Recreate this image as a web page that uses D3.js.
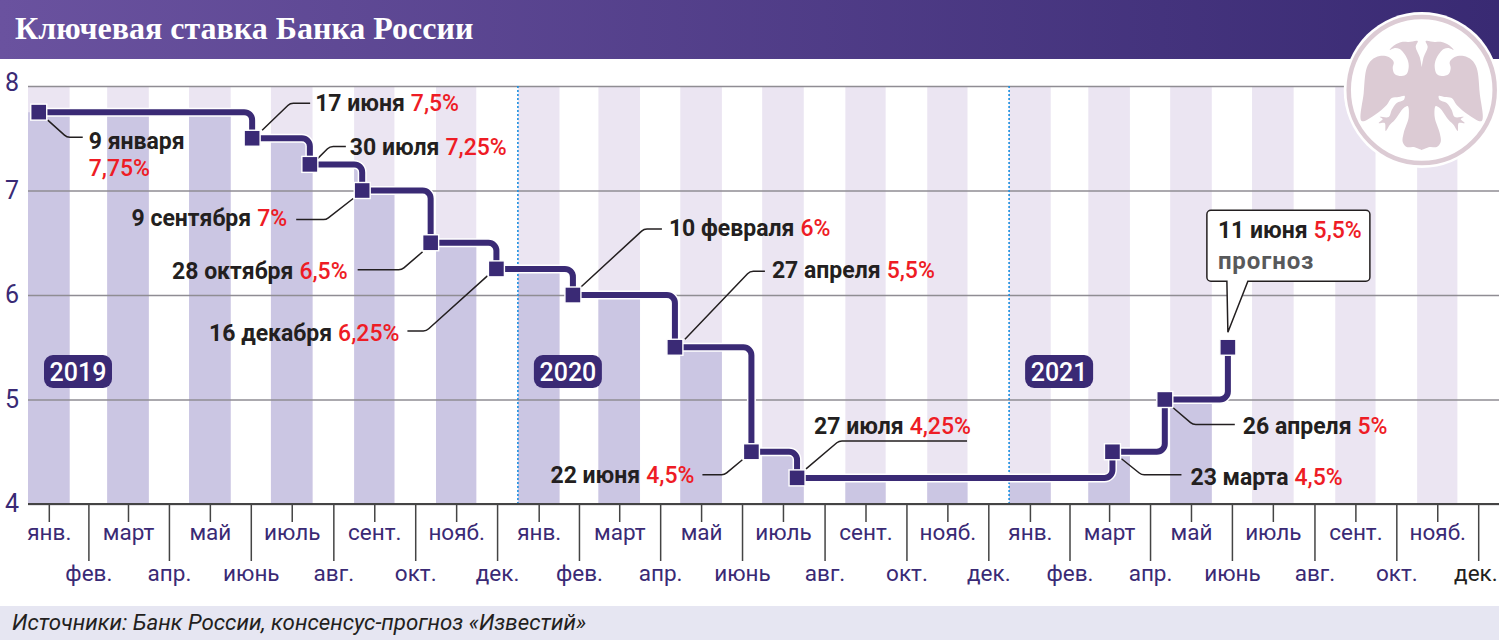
<!DOCTYPE html>
<html lang="ru">
<head>
<meta charset="utf-8">
<script src="https://cdn.jsdelivr.net/npm/d3@7"></script>
<style>
html, body { margin: 0; padding: 0; background: #fff; }
svg { display: block; }
</style>
</head>
<body>
<div id="container"></div>
<script>
const titleText = "Ключевая ставка Банка России"
const sourceText = "Источники: Банк России, консенсус-прогноз «Известий»"
const monthNames = ["янв.", "фев.", "март", "апр.", "май", "июнь", "июль", "авг.", "сент.", "окт.", "нояб.", "дек."]
const yearLabels = ["2019", "2020", "2021"]
const yTicks = [4, 5, 6, 7, 8]

const rateDates = ["2019-01-09", "2019-06-17", "2019-07-30", "2019-09-07", "2019-10-28", "2019-12-16",
    "2020-02-11", "2020-04-27", "2020-06-23", "2020-07-27", "2021-03-19", "2021-04-27", "2021-06-13"]
const rateValues = [7.75, 7.5, 7.25, 7, 6.5, 6.25, 6, 5.5, 4.5, 4.25, 4.5, 5, 5.5]
const dateLabels = ["9 января", "17 июня", "30 июля", "9 сентября", "28 октября", "16 декабря",
    "10 февраля", "27 апреля", "22 июня", "27 июля", "23 марта", "26 апреля", "11 июня"]
const rateLabels = ["7,75%", "7,5%", "7,25%", "7%", "6,5%", "6,25%", "6%", "5,5%", "4,5%", "4,25%", "4,5%", "5%", "5,5%"]

const width = 1499
const height = 640
const margin = {top: 86, bottom: 136, left: 28, right: 0}

const ink = "#3a2a75"
const red = "#ee1c25"
const dark = "#231f20"
const sans = "Roboto, sans-serif"

const parseDate = d3.utcParse("%Y-%m-%d")
const rates = rateDates.map((d, i) => ({date: parseDate(d), rate: rateValues[i]}))

const x = d3.scaleUtc()
    .domain([new Date(Date.UTC(2019, 0, 1)), new Date(Date.UTC(2022, 0, 1))])
    .range([margin.left, width - margin.right])

const y = d3.scaleLinear()
    .domain([4, 8])
    .range([height - margin.bottom, margin.top])

const months = d3.utcMonth.range(x.domain()[0], x.domain()[1])
const nextMonth = d => d3.utcMonth.offset(d, 1)
const midMonth = d => new Date((+d + +nextMonth(d)) / 2)

const svg = d3.create("svg").attr("width", width).attr("height", height)
const defs = svg.append("defs")

const grad = defs.append("linearGradient").attr("id", "head")
grad.append("stop").attr("offset", 0).attr("stop-color", "#6a529f")
grad.append("stop").attr("offset", 1).attr("stop-color", "#392a73")

// area under the rate, used to darken the month bands
const underRate = d3.area()
    .x(d => x(d.date))
    .y0(y(4))
    .y1(d => y(d.rate))
    .curve(d3.curveStepAfter)

defs.append("clipPath").attr("id", "under")
    .append("path")
    .attr("d", underRate([{date: x.domain()[0], rate: rates[0].rate}, ...rates]))

svg.append("rect").attr("width", width).attr("height", 59).attr("fill", "url(#head)")
svg.append("text")
    .attr("x", 15).attr("y", 39)
    .attr("fill", "#fff")
    .style("font", "bold 32px 'Liberation Serif', serif")
    .text(titleText)

// bands for odd months, light then dark under the rate
const oddMonths = months.filter((d, i) => i % 2 === 0)
const drawBands = (g, color) => g.selectAll("rect")
    .data(oddMonths)
    .join("rect")
    .attr("x", d => x(d))
    .attr("width", d => x(nextMonth(d)) - x(d))
    .attr("y", y(8))
    .attr("height", y(4) - y(8))
    .attr("fill", color)

svg.append("g").call(drawBands, "#ebe5f2")
svg.append("g").attr("clip-path", "url(#under)").call(drawBands, "#cbc6e3")

const yAxis = svg.append("g")
    .attr("transform", `translate(${margin.left}, 0)`)
    .call(d3.axisLeft(y).tickValues(yTicks).tickSize(-(width - margin.left)).tickFormat(d3.format("d")))
yAxis.select(".domain").remove()
yAxis.selectAll("line").attr("stroke", "#8f8d93").attr("stroke-width", 1.3)
yAxis.selectAll("text")
    .attr("x", -16)
    .attr("dy", d => d === 8 ? "0.16em" : "0.3em")
    .attr("text-anchor", "middle")
    .attr("fill", ink)
    .style("font", `25px ${sans}`)

// year dividers
svg.append("g").selectAll("line")
    .data(months.filter(d => d.getUTCMonth() === 0).slice(1))
    .join("line")
    .attr("x1", d => x(d)).attr("x2", d => x(d))
    .attr("y1", y(8)).attr("y2", y(4))
    .attr("stroke", "#1b8fe0")
    .attr("stroke-width", 1.6)
    .attr("stroke-dasharray", "2 2")

const xAxis = svg.append("g")
    .attr("transform", `translate(0, ${y(4)})`)
    .call(d3.axisBottom(x).tickValues(months.map(midMonth)).tickSize(0)
        .tickFormat((d, i) => monthNames[i % 12]))
xAxis.select(".domain").remove()
xAxis.append("line")
    .attr("x1", margin.left).attr("x2", width)
    .attr("stroke", "#444").attr("stroke-width", 2)
xAxis.selectAll(".tick line")
    .attr("y2", (d, i) => i % 2 === 0 ? 18 : 57)
    .attr("stroke", "#444")
    .attr("stroke-width", 1.5)
xAxis.selectAll(".tick text")
    .attr("y", (d, i) => i % 2 === 0 ? 36 : 77)
    .attr("dy", 0)
    .attr("fill", (d, i) => i === months.length - 1 ? dark : ink)
    .attr("text-anchor", (d, i) => i === months.length - 1 ? "end" : "middle")
    .attr("dx", (d, i) => i === months.length - 1 ? 19 : 0)
    .style("font", `22.5px ${sans}`)

// year badges
const badges = svg.append("g").selectAll("g")
    .data(months.filter(d => d.getUTCMonth() === 0))
    .join("g")
    .attr("transform", d => `translate(${x(d) + 16}, 355)`)
badges.append("rect")
    .attr("width", 68).attr("height", 33).attr("rx", 9)
    .attr("fill", ink)
badges.append("text")
    .attr("x", 34).attr("y", 26)
    .attr("text-anchor", "middle")
    .attr("fill", "#fff")
    .style("font", `500 25px ${sans}`)
    .text((d, i) => yearLabels[i])

// leader layout, offsets from each marker
const leaders = [
    [[9, 8], [28, 25], [44, 25]], [[10, -8], [38, -35], [58, -35]], [[8, -6], [20, -18], [36, -18]],
    [[-9, 8], [-36, 29], [-66, 29]], [[-8, 9], [-29, 27], [-73, 27]], [[-9, 7], [-70, 62], [-89, 62]],
    [[8, -8], [71, -66], [89, -66]], [[10, -8], [75, -76], [90, -76]], [[-9, 8], [-27, 23], [-49, 23]],
    [[9, -9], [42, -37], [170, -37]], [[9, 7], [29, 23], [69, 23]], [[8, 8], [28, 25], [70, 25]], null
]
const labelOffsets = [
    [50, 29], [63, -35], [40, -17], [-75, 27], [-83, 28], [-97, 64],
    [96, -67], [97, -77], [-57, 23], [17, -52], [78, 25], [78, 26], [-10, -117]
]
const labelAnchors = ["start", "start", "start", "end", "end", "end", "start", "start", "end", "start", "start", "start", "start"]

const mx = d => x(d.date)
const my = d => y(d.rate)

svg.append("g").selectAll("path")
    .data(rates.filter((d, i) => leaders[i]))
    .join("path")
    .attr("fill", "none")
    .attr("stroke", dark)
    .attr("stroke-width", 1.5)
    .attr("d", (d, i) => {
        const p = leaders[i].map(o => [mx(d) + o[0], my(d) + o[1]])
        const path = d3.path()
        path.moveTo(p[0][0], p[0][1])
        path.arcTo(p[1][0], p[1][1], p[2][0], p[2][1], 8)
        path.lineTo(p[2][0], p[2][1])
        return path.toString()
    })

// step line with rounded corners
function stepPath(data){
    const path = d3.path()
    const r = 8
    path.moveTo(mx(data[0]), my(data[0]))
    for(let i = 1; i < data.length; i++){
        path.arcTo(mx(data[i]), my(data[i - 1]), mx(data[i]), my(data[i]), r)
        path.lineTo(mx(data[i]), my(data[i]))
    }
    return path.toString()
}

svg.append("path").attr("d", stepPath(rates)).attr("fill", "none")
    .attr("stroke", "#fff").attr("stroke-width", 9)
svg.append("path").attr("d", stepPath(rates)).attr("fill", "none")
    .attr("stroke", ink).attr("stroke-width", 6)

svg.append("g").selectAll("rect")
    .data(rates)
    .join("rect")
    .attr("x", d => mx(d) - 8).attr("y", d => my(d) - 8)
    .attr("width", 16).attr("height", 16)
    .attr("fill", ink)
    .attr("stroke", "#fff")
    .attr("stroke-width", 1.4)

// callout for the forecast
const last = rates[rates.length - 1]
const lx = mx(last), ly = my(last)
const callout = d3.path()
callout.moveTo(lx - 16, ly - 137)
callout.arcTo(lx + 142, ly - 137, lx + 142, ly - 66, 4)
callout.arcTo(lx + 142, ly - 66, lx - 21, ly - 66, 4)
callout.lineTo(lx + 20, ly - 66)
callout.lineTo(lx, ly - 15)
callout.lineTo(lx - 1, ly - 66)
callout.arcTo(lx - 21, ly - 66, lx - 21, ly - 137, 4)
callout.arcTo(lx - 21, ly - 137, lx + 142, ly - 137, 4)
callout.closePath()
svg.append("path").attr("d", callout.toString())
    .attr("fill", "#fff").attr("stroke", dark).attr("stroke-width", 1.5)
svg.append("text")
    .attr("x", lx - 10).attr("y", ly - 78)
    .attr("fill", "#58595b")
    .style("font", `bold 24px ${sans}`)
    .style("letter-spacing", "0.9px")
    .text("прогноз")

// date and rate labels
const labels = svg.append("g").selectAll("text")
    .data(rates)
    .join("text")
    .attr("x", (d, i) => mx(d) + labelOffsets[i][0])
    .attr("y", (d, i) => my(d) + labelOffsets[i][1] + 8)
    .attr("text-anchor", (d, i) => labelAnchors[i])
    .attr("fill", dark)
    .style("font", `bold 23px ${sans}`)
labels.append("tspan").text((d, i) => dateLabels[i])
labels.append("tspan")
    .attr("fill", red)
    .attr("font-weight", 500)
    .attr("x", (d, i) => i === 0 ? mx(d) + labelOffsets[i][0] : null)
    .attr("dy", (d, i) => i === 0 ? 27 : null)
    .attr("dx", (d, i) => i === 0 ? 0 : 6)
    .text((d, i) => rateLabels[i])

// emblem
const ex = 1421.7, ey = 90
const emblem = svg.append("g").attr("transform", `translate(${ex}, ${ey})`)
emblem.append("circle").attr("r", 78).attr("fill", "#fff")
emblem.append("circle").attr("r", 73).attr("fill", "#fff").attr("stroke", "#dccbd4").attr("stroke-width", 4.5)

const eagleSide = [
    [0, -23], [2, -33], [6, -43], [4, -49], [13, -48], [20, -48], [27, -45], [32, -40], [27, -42], [22, -41],
    [18, -37], [14, -30], [13, -23], [15, -16], [20, -14], [27, -16], [29, -22], [28, -28], [33, -33], [42, -34],
    [50, -30], [55, -22], [58, 3], [60, 31], [47, 25], [35, 15], [30, 8], [23, 7], [17, 6], [18, 10],
    [25, 13], [30, 20], [33, 27], [42, 27], [39, 29], [43, 33], [37, 33], [36, 41], [32, 35], [27, 30],
    [18, 18], [14, 16], [13, 27], [18, 43], [19, 52], [15, 57], [8, 57], [0, 60]
]
const eagleLine = d3.line().curve(d3.curveCatmullRom.alpha(0.5))
const leftHalf = eagleSide.slice().reverse().map(p => [-p[0], p[1]])
emblem.append("path")
    .attr("d", eagleLine([...eagleSide, ...leftHalf]) + "Z")
    .attr("fill", "#dccbd4")

svg.append("rect").attr("y", 606).attr("width", width).attr("height", 34).attr("fill", "#e6e6f2")
svg.append("text")
    .attr("x", 12).attr("y", 630)
    .attr("fill", dark)
    .style("font", `italic 22.3px ${sans}`)
    .text(sourceText)

document.querySelector("#container").appendChild(svg.node())
</script>
</body>
</html>
